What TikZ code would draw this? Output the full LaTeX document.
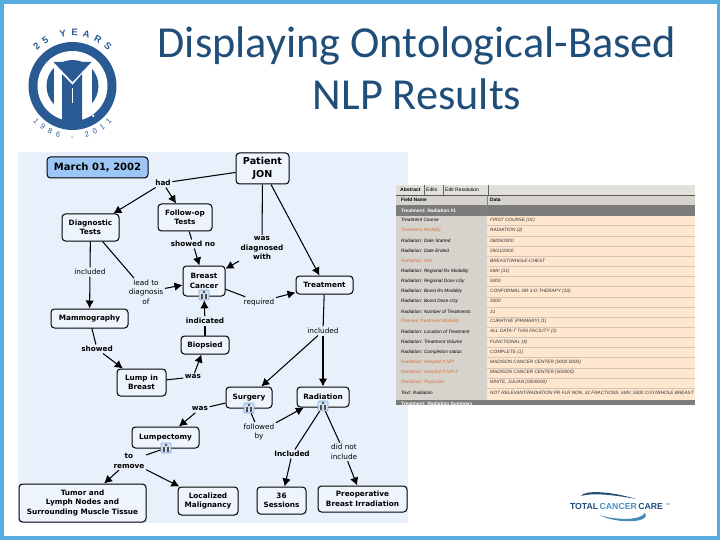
\documentclass[tikz,border=0pt]{standalone}
\usepackage{fontspec}
\setmainfont{Liberation Sans}
\newfontfamily\titlefont{Carlito}
\newfontfamily\mapfont{DejaVu Sans}
\usetikzlibrary{arrows.meta,decorations.text}
\definecolor{framecol}{HTML}{57ADE0}
\definecolor{titlecol}{HTML}{1F4E79}
\definecolor{logocol}{HTML}{2A5A94}
\definecolor{mapcol}{HTML}{E8F1FB}
\definecolor{datecol}{HTML}{9CC6F5}
\definecolor{boxcol}{HTML}{EEF4FC}
\definecolor{iconcol}{HTML}{D2E2F4}
\definecolor{iconline}{HTML}{7FA6D0}
\definecolor{fieldcol}{HTML}{D5D3CC}
\definecolor{datacol}{HTML}{FFE7CF}
\definecolor{sectcol}{HTML}{7C7C7A}
\definecolor{flagcol}{HTML}{D9703A}
\tikzset{
  concept/.style 2 args={draw=black, line width=1pt, rounded corners=3.5pt, fill=boxcol, align=center,
    inner sep=0pt, minimum width=#1pt, minimum height=#2pt,
    font=\mapfont\bfseries\fontsize{7.3}{9.5}\selectfont},
  phrase/.style={align=center, inner sep=1.5pt, font=\mapfont\fontsize{7.3}{9.5}\selectfont},
  phrasebold/.style={phrase, font=\mapfont\bfseries\fontsize{7.3}{9.5}\selectfont},
  link/.style={line width=1.05pt, black},
  linkto/.style={link, -{Latex[length=8pt,width=8.5pt]}},
  cell/.style={anchor=west, inner sep=0pt, font=\itshape\fontsize{4.7}{5}\selectfont},
}
\begin{document}
\begin{tikzpicture}[x=1pt,y=-1pt]
\useasboundingbox (0,0) rectangle (720,540);
% Frame
\fill[framecol] (0,0) rectangle (720,540);
\fill[white] (4,4) rectangle (716.5,535.5);
% Title
\node[titlecol, align=center, inner sep=0pt, font=\titlefont\fontsize{44.3}{52}\selectfont] (title) at (417,68) {Displaying Ontological-Based\\NLP Results};
% Logo
\fill[logocol] (72.5,86) circle (44);
\fill[white] (72.5,86) circle (35);
\fill[logocol] (72.5,86) circle (26);
\fill[white] (53.5,64) rectangle (91.5,114);
\fill[logocol] (53.5,62) -- (91.5,62) -- (72.5,82) -- cycle;
\fill[logocol] (62,74) -- (72.5,85) -- (82,74) -- (82,126) -- (62,126) -- cycle;
\fill[white] (71.7,88) rectangle (73.3,103);
\fill[white] (93.3,116) circle (1.3);
\path[decorate, decoration={text along path, text align=fit to path,
  text={|\bfseries\fontsize{9.5}{9.5}\selectfont\color{logocol}|25 YEARS}}]
  (37,50.6) .. controls (56.5,31) and (88.5,31) .. (108,50.6);
\path[decorate, decoration={text along path, text align=fit to path,
  text={|\fontsize{7.5}{8}\selectfont\color{logocol}|1986 - 2011}}]
  (33,121.5) .. controls (54,145) and (91,145) .. (112,121.5);
% Concept map
\fill[mapcol] (18,152) rectangle (408,523);
\node[concept={101}{21}, fill=datecol, font=\mapfont\bfseries\fontsize{10}{12}\selectfont] (date) at (97.5,167.5) {March 01, 2002};
\node[concept={53}{31}, font=\mapfont\bfseries\fontsize{9.6}{12.5}\selectfont] (patient) at (262.5,168.5) {Patient\\JON};
\node[concept={57}{27}] (diagnostic) at (90.5,227.5) {Diagnostic\\Tests};
\node[concept={54}{27}] (followup) at (185,217.5) {Follow-op\\Tests};
\node[concept={42}{30}] (breast) at (204,281) {Breast\\Cancer};
\node[concept={77}{19}] (mammo) at (89.5,318.5) {Mammography};
\node[concept={57}{18}] (treatment) at (324.5,285) {Treatment};
\node[concept={48}{18}] (biopsied) at (205,345) {Biopsied};
\node[concept={49}{27}] (lump) at (141.5,382.5) {Lump in\\Breast};
\node[concept={46}{21}] (surgery) at (249,397.5) {Surgery};
\node[concept={52}{20}] (radiation) at (323,397) {Radiation};
\node[concept={67}{21}] (lumpectomy) at (165.5,437.5) {Lumpectomy};
\node[concept={127}{38}] (tumor) at (82.5,503) {Tumor and\\Lymph Nodes and\\Surrounding Muscle Tissue};
\node[concept={60}{28}] (localized) at (208,501) {Localized\\Malignancy};
\node[concept={49}{27}] (sessions) at (281.5,500.5) {36\\Sessions};
\node[concept={89}{26}] (preop) at (362.5,499) {Preoperative\\Breast Irradiation};
% Linking phrases
\node[phrasebold] (had) at (163,183) {had};
\node[phrasebold] (showedno) at (193,244) {showed no};
\node[phrase] (includedleft) at (90,272) {included};
\node[phrase] (leadto) at (146,292) {lead to\\diagnosis\\of};
\node[phrasebold] (diagnosed) at (262,248) {was\\diagnosed\\with};
\node[phrase] (required) at (259,302) {required};
\node[phrasebold] (indicated) at (205,321) {indicated};
\node[phrase] (includedright) at (323,331) {included};
\node[phrasebold] (showed) at (97,349) {showed};
\node[phrasebold] (wasupper) at (193,377) {was};
\node[phrasebold] (waslower) at (200,409) {was};
\node[phrasebold] (toremove) at (129,461) {to\\remove};
\node[phrase] (followedby) at (259,432) {followed\\by};
\node[phrasebold] (includedlow) at (292,454) {Included};
\node[phrase] (didnot) at (344,452) {did not\\include};
% Attachment icons
\foreach \name/\x/\y in {breasticon/204/295, surgeryicon/249/408, radiationicon/323/406, lumpicon/166/448} {
  \node[draw=iconline, fill=iconcol, line width=0.7pt, rounded corners=1pt, minimum size=10pt, inner sep=0pt] (\name) at (\x,\y) {};
  \fill[black!70] (\x-3,\y+3.5) rectangle (\x-1,\y-1);
  \fill[black!70] (\x+1,\y+3.5) rectangle (\x+3,\y-1);
  \fill[black!70] (\x,\y-3) circle (1.3);
}
% Connectors
\draw[link] (patient) -- (had);
\draw[linkto] (had) -- (diagnostic);
\draw[linkto] (had) -- (followup);
\draw[link] (followup) -- (showedno);
\draw[linkto] (showedno) -- (breast);
\draw[link] (diagnostic) -- (includedleft);
\draw[linkto] (includedleft) -- (mammo);
\draw[link] (diagnostic) -- (leadto);
\draw[linkto] (leadto) -- (breast);
\draw[link] (patient) -- (diagnosed);
\draw[linkto] (diagnosed) -- (breast);
\draw[linkto] (patient) -- (treatment);
\draw[link] (breast) -- (required);
\draw[linkto] (required) -- (treatment);
\draw[link] (biopsied) -- (indicated);
\draw[linkto] (indicated) -- (breasticon);
\draw[link] (treatment) -- (includedright);
\draw[linkto] (includedright) -- (radiation);
\draw[linkto] (includedright) -- (surgery);
\draw[link] (mammo) -- (showed);
\draw[linkto] (showed) -- (lump);
\draw[link] (lump) -- (wasupper);
\draw[linkto] (wasupper) -- (biopsied);
\draw[link] (surgery) -- (waslower);
\draw[linkto] (waslower) -- (lumpectomy);
\draw[link] (lumpicon) -- (toremove);
\draw[linkto] (toremove) -- (tumor);
\draw[linkto] (toremove) -- (localized);
\draw[link] (surgeryicon) -- (followedby);
\draw[linkto] (followedby) -- (radiation);
\draw[link] (radiationicon) -- (includedlow);
\draw[linkto] (includedlow) -- (sessions);
\draw[link] (radiationicon) -- (didnot);
\draw[linkto] (didnot) -- (preop);
% Abstract table
\fill[fieldcol!70!white] (396,185) rectangle (695,195);
\fill[fieldcol] (396,195) rectangle (487,400);
\fill[datacol] (487,216) rectangle (695,400);
\fill[fieldcol] (487,195) rectangle (695,205);
\fill[sectcol] (396,205) rectangle (695,216);
\fill[sectcol] (396,400) rectangle (695,405);
\draw[black!65, line width=0.7pt] (396,195) -- (695,195);
\draw[black!50, line width=0.5pt] (487,195) -- (487,216);
\foreach \n in {1,...,17} \draw[datacol!75!black!70!white, line width=0.5pt] (487,215.6+10.15*\n) -- (695,215.6+10.15*\n);
\node[cell, font=\bfseries\fontsize{5}{5}\selectfont] (abstracttab) at (400,190) {Abstract};
\node[cell, font=\fontsize{5}{5}\selectfont] (editstab) at (426,190) {Edits};
\node[cell, font=\fontsize{5}{5}\selectfont] (resolutiontab) at (445,190) {Edit Resolution};
\draw[black!60, line width=0.5pt] (424,185) -- (424,195) (443,185) -- (443,195) (488,185) -- (488,195);
\node[cell, font=\bfseries\fontsize{4.8}{5}\selectfont] (fieldhead) at (401,200) {Field Name};
\node[cell, font=\bfseries\fontsize{4.8}{5}\selectfont] (datahead) at (490,200) {Data};
\node[cell, white, font=\bfseries\fontsize{4.8}{5}\selectfont] (sectfirst) at (401,210.5) {Treatment: Radiation \#1};
\begin{scope}
\clip (396,400) rectangle (695,405);
\node[cell, white, font=\bfseries\fontsize{4.8}{5}\selectfont] (sectsecond) at (401,404) {Treatment: Radiation Summary};
\end{scope}
\foreach \n/\fld/\val/\col in {
  1/{Treatment Course}/{FIRST COURSE (01)}/black,
  2/{Treatment Modality}/{RADIATION (2)}/flagcol,
  3/{Radiation: Date Started}/{08/09/2000}/black,
  4/{Radiation: Date Ended}/{09/11/2000}/black,
  5/{Radiation: Site}/{BREAST/WHOLE-CHEST}/flagcol,
  6/{Radiation: Regional Rx Modality}/{6MV (31)}/black,
  7/{Radiation: Regional Dose cGy}/{5000}/black,
  8/{Radiation: Boost Rx Modality}/{CONFORMAL OR 3-D THERAPY (33)}/black,
  9/{Radiation: Boost Dose cGy}/{5000}/black,
  10/{Radiation: Number of Treatments}/{31}/black,
  11/{Planned Treatment Modality}/{CURATIVE (PRIMARY) (1)}/flagcol,
  12/{Radiation: Location of Treatment}/{ALL DATA-T THIS FACILITY (1)}/black,
  13/{Radiation: Treatment Volume}/{FUNCTIONAL (4)}/black,
  14/{Radiation: Completion status}/{COMPLETE (1)}/black,
  15/{Radiation: Hospital \# NPI}/{MADISON CANCER CENTER (0000-0000)}/flagcol,
  16/{Radiation: Hospital \# NPI 2}/{MADISON CANCER CENTER (000000)}/flagcol,
  17/{Radiation: Physician}/{WHITE, JULIAN (0000000)}/flagcol,
  18/{Text: Radiation}/{NOT RELEVANT/RADIATION PR FLR NON, 31 FRACTIONS. 6MV, 5000 CGY/WHOLE BREAST}/black} {
  \node[cell, text=\col] (field\n) at (401,209.9+10.15*\n) {\fld};
  \node[cell, text=black!80] (value\n) at (490,209.9+10.15*\n) {\val};
}
% Footer logo
\fill[titlecol] (581,496) .. controls (584,490) and (610,491) .. (636,499) .. controls (610,494) and (590,493) .. cycle;
\fill[black!20!framecol] (599,515) .. controls (615,520) and (640,521) .. (645,513) .. controls (652,522) and (620,525) .. cycle;
\node[inner sep=0pt, font=\bfseries\fontsize{8.7}{9}\selectfont] (careword) at (616.5,507) {\textcolor{titlecol}{TOTAL}\,\textcolor{framecol!70!titlecol}{CANCER}\,\textcolor{titlecol}{CARE}};
\node[inner sep=0pt, text=black!60, font=\fontsize{3}{3}\selectfont] (trademark) at (668,504) {TM};
\end{tikzpicture}
\end{document}
